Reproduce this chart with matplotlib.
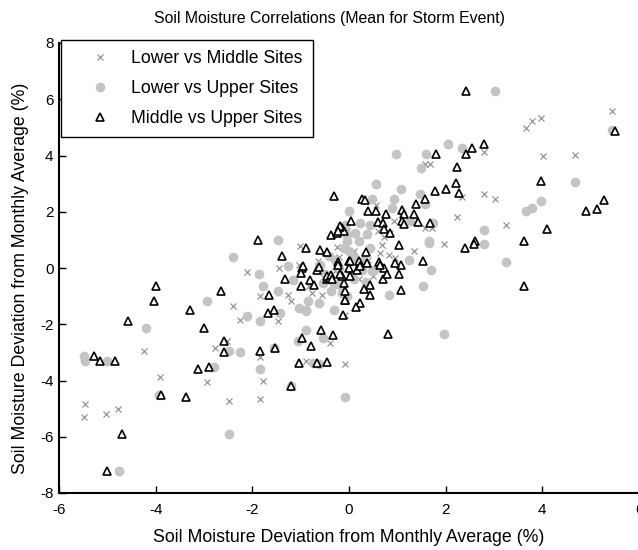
import numpy as np
import matplotlib
matplotlib.use("Agg")
import matplotlib.pyplot as plt

# (x, y) deviation pairs, one list per site pair
lower_vs_middle = [
    (5.44, 5.60), (3.66, 4.98), (3.79, 5.24), (3.98, 5.33), (4.01, 4.00), (4.68, 4.03),
    (2.80, 4.12), (1.58, 3.70), (1.67, 3.70), (2.80, 2.64), (3.03, 2.45), (2.34, 2.52),
    (2.23, 1.80), (3.25, 1.54), (0.56, 2.25), (0.94, 1.66), (1.58, 1.42), (1.72, 1.42),
    (0.72, 1.09), (0.85, 1.24), (-0.04, 1.07), (1.96, 0.85), (1.34, 0.59), (0.68, 0.83),
    (0.65, 0.53), (0.82, 0.48), (0.96, 0.36), (0.37, 1.19), (0.23, 1.01), (-0.08, -1.66),
    (-1.02, 0.77), (-0.64, 0.24), (-1.44, 0.00), (-2.11, -0.15), (-1.85, -1.01), (-1.26, -0.95),
    (-1.21, -1.18), (-2.41, -1.36), (-2.25, -1.86), (-1.46, -1.89), (-1.04, 0.12), (-0.82, -0.65),
    (-0.77, -0.89), (-0.56, -0.95), (-0.39, -2.67), (-0.25, 0.74), (-4.25, -2.96), (-2.78, -2.84),
    (-2.52, -2.61), (-1.85, -3.17), (-1.56, -2.87), (-3.92, -3.89), (-5.46, -4.83), (-5.49, -5.31),
    (-5.02, -5.19), (-4.77, -5.03), (-2.94, -4.05), (-2.49, -4.74), (-1.85, -4.66), (-1.77, -4.00),
    (-0.88, -3.29), (-0.08, -3.41), (-0.04, 1.30), (0.61, 1.33), (0.17, 0.00), (-0.20, 0.40),
    (0.10, 0.60), (-0.30, -0.10), (0.40, 0.30), (0.20, -0.40), (-0.10, -0.70), (0.50, -0.30),
]

lower_vs_upper = [
    (3.03, 6.28), (5.44, 4.92), (0.97, 4.05), (1.60, 4.05), (2.04, 4.41), (2.34, 4.27),
    (1.48, 3.55), (0.56, 2.99), (1.08, 2.81), (0.48, 2.47), (0.94, 2.47), (1.46, 2.64),
    (0.89, 2.13), (1.58, 2.29), (0.01, 2.02), (0.23, 1.60), (0.44, 1.54), (1.74, 1.60),
    (4.68, 3.05), (3.98, 2.40), (3.79, 2.13), (3.66, 2.02), (2.80, 1.34), (1.65, 0.97),
    (-0.08, 1.54), (1.66, 0.89), (2.80, 0.85), (3.25, 0.20), (1.25, 0.30), (1.70, -0.06),
    (1.54, -0.65), (0.82, -0.95), (1.96, -2.35), (0.51, -0.06), (0.44, 0.71), (-0.04, 1.19),
    (-1.46, 1.01), (-2.41, 0.39), (-1.86, -0.20), (-1.77, -0.65), (-1.46, -0.80), (-1.26, 0.06),
    (-2.94, -1.18), (-2.11, -1.69), (-1.85, -1.89), (-1.42, -1.60), (-1.04, -1.42), (-0.88, -1.48),
    (-0.84, -1.16), (-0.63, -1.24), (-0.32, -1.48), (-0.90, -2.19), (-1.06, -2.58), (-0.53, -2.49),
    (-4.20, -2.15), (-0.11, 0.71), (-0.37, -0.83), (-0.32, -0.57), (-0.04, -1.01), (-1.15, -0.41),
    (-2.26, -2.99), (-2.49, -2.96), (-1.56, -2.84), (-5.49, -3.14), (-5.46, -3.29), (-5.01, -3.29),
    (-3.93, -4.53), (-4.75, -7.23), (-2.79, -3.53), (-1.85, -3.58), (-0.75, -3.38), (-0.63, -3.41),
    (-0.08, -4.60), (-2.49, -5.90), (-1.21, -4.18), (0.13, 1.24), (0.37, 1.21), (-0.04, 0.95),
    (0.20, 0.95), (-0.01, 0.59), (-0.42, 0.42), (0.30, 0.30), (0.27, -0.06), (0.48, -0.12),
    (-0.18, -0.59), (-0.53, -0.53), (-0.88, -1.54), (1.27, 1.66), (-0.20, 0.00), (-0.50, -0.20),
    (-0.30, 0.30), (0.10, -0.40), (-0.60, 0.10), (0.35, -0.50), (0.10, 0.40), (-0.15, -0.90),
    (0.05, -0.20),
]

middle_vs_upper = [
    (2.42, 6.31), (5.51, 4.88), (1.81, 4.07), (2.54, 4.27), (2.42, 4.07), (2.80, 4.41),
    (2.24, 3.58), (3.98, 3.11), (2.21, 3.02), (1.78, 2.73), (2.01, 2.82), (2.27, 2.67),
    (1.58, 2.47), (1.38, 2.29), (0.27, 2.47), (0.34, 2.41), (5.27, 2.42), (4.91, 2.02),
    (5.14, 2.11), (4.10, 1.37), (3.63, 0.97), (0.39, 2.02), (0.56, 2.02), (0.77, 1.93),
    (1.10, 2.08), (1.13, 1.93), (1.34, 1.92), (0.04, 1.66), (0.60, 1.64), (0.70, 1.60),
    (1.10, 1.66), (1.13, 1.56), (1.43, 1.62), (1.67, 1.60), (-0.14, 1.42), (-0.11, 1.30),
    (0.72, 1.37), (0.84, 1.24), (2.60, 0.97), (2.39, 0.71), (2.59, 0.85), (3.63, -0.63),
    (0.80, -2.35), (1.03, 0.83), (1.54, 0.24), (1.08, 0.09), (1.03, -0.23), (1.08, -0.77),
    (0.70, -0.38), (0.44, -0.59), (0.44, -0.95), (0.32, -0.73), (0.23, -1.24), (0.15, -1.40),
    (-0.08, -1.12), (-0.12, -1.66), (-0.11, -0.53), (-0.14, -0.30), (-0.01, 0.24), (0.17, -0.06),
    (0.72, 0.00), (0.63, 0.20), (0.37, 0.18), (0.96, 0.18), (0.36, 0.57), (-1.88, 1.01),
    (-0.89, 0.71), (-1.39, 0.42), (-0.61, 0.65), (-0.46, 0.57), (-0.97, 0.00), (-0.66, -0.06),
    (-0.99, -0.18), (-1.33, -0.39), (-0.99, -0.63), (-0.80, -0.44), (-0.72, -0.61), (-0.46, -0.38),
    (-0.39, -0.36), (-0.37, 1.19), (-0.19, 1.45), (-0.24, 1.24), (-0.08, -0.83), (-0.09, -1.15),
    (-4.00, -0.65), (-4.03, -1.18), (-4.58, -1.89), (-3.30, -1.48), (-2.64, -0.83), (-2.99, -2.13),
    (-1.65, -0.95), (-1.68, -1.60), (-1.56, -1.51), (-0.57, -2.19), (-0.34, -2.39), (-0.97, -2.49),
    (-0.79, -2.78), (-2.59, -2.58), (-1.54, -2.84), (-1.85, -2.94), (-0.32, 2.55), (-0.18, 1.48),
    (-0.23, 1.30), (-0.22, 0.21), (0.03, 0.26), (0.20, 0.26), (-0.95, 0.06), (-0.63, 0.02),
    (-0.22, 0.10), (-0.18, -0.23), (-0.01, 0.00), (0.03, -0.30), (0.23, 0.06), (0.65, 0.10),
    (0.79, -0.23), (-0.45, -0.30), (-0.40, -0.35), (-0.38, -0.25), (-0.35, -0.40),
    (-5.28, -3.14), (-5.16, -3.29), (-4.84, -3.29), (-3.89, -4.53), (-3.37, -4.59), (-4.70, -5.89),
    (-5.01, -7.23), (-3.13, -3.59), (-2.89, -3.53), (-2.58, -2.99), (-1.04, -3.38), (-0.66, -3.38),
    (-0.46, -3.34), (-1.19, -4.18),
]

x_ticks = [-6, -4, -2, 0, 2, 4, 6]
y_ticks = [-8, -6, -4, -2, 0, 2, 4, 6, 8]

plt.rcParams['font.family'] = ['Liberation Sans', 'DejaVu Sans']
plt.rcParams['axes.unicode_minus'] = False

fig = plt.figure(figsize=(6.38, 5.5), dpi=100)
ax = fig.add_axes([59 / 638, 57 / 550, 580 / 638, 450 / 550])

lm = np.array(lower_vs_middle)
lu = np.array(lower_vs_upper)
mu = np.array(middle_vs_upper)

ax.plot(lm[:, 0], lm[:, 1], linestyle='none', marker='x', markersize=4.5,
        markeredgewidth=0.8, color='#8a8a8a', label='Lower vs Middle Sites')
ax.plot(lu[:, 0], lu[:, 1], linestyle='none', marker='o', markersize=7,
        markeredgewidth=0, color='#c4c4c4', label='Lower vs Upper Sites')
ax.plot(mu[:, 0], mu[:, 1], linestyle='none', marker='^', markersize=5.5,
        markeredgewidth=1.2, markerfacecolor='white', markeredgecolor='black',
        label='Middle vs Upper Sites')

ax.set_xlim(-6, 6)
ax.set_ylim(-8, 8)
ax.set_xticks(x_ticks)
ax.set_yticks(y_ticks)
ax.tick_params(direction='in', length=5, width=1, labelsize=11)
ax.tick_params(axis='x', pad=7)
ax.tick_params(axis='y', pad=4)

for side in ['top', 'right']:
    ax.spines[side].set_visible(False)
for side in ['left', 'bottom']:
    ax.spines[side].set_linewidth(1.5)

# title sits a bit left of the axes centre in the original
fig.text(329 / 638, 1 - 18 / 550, 'Soil Moisture Correlations (Mean for Storm Event)',
         fontsize=11.4, ha='center', va='center')
ax.set_xlabel('Soil Moisture Deviation from Monthly Average (%)', fontsize=12.8)
ax.set_ylabel('Soil Moisture Deviation from Monthly Average (%)', fontsize=12.8)
ax.xaxis.set_label_coords(0.5, -0.08)
ax.yaxis.set_label_coords(-0.052, 0.476)

leg = ax.legend(loc='upper left', bbox_to_anchor=(0.003, 1.007), borderaxespad=0,
                fancybox=False, framealpha=1, edgecolor='black', fontsize=12.7,
                handlelength=3.2, handletextpad=0.2, borderpad=0.6, labelspacing=0.72)
leg.get_frame().set_linewidth(1.0)

fig.savefig('out.png', dpi=100)
